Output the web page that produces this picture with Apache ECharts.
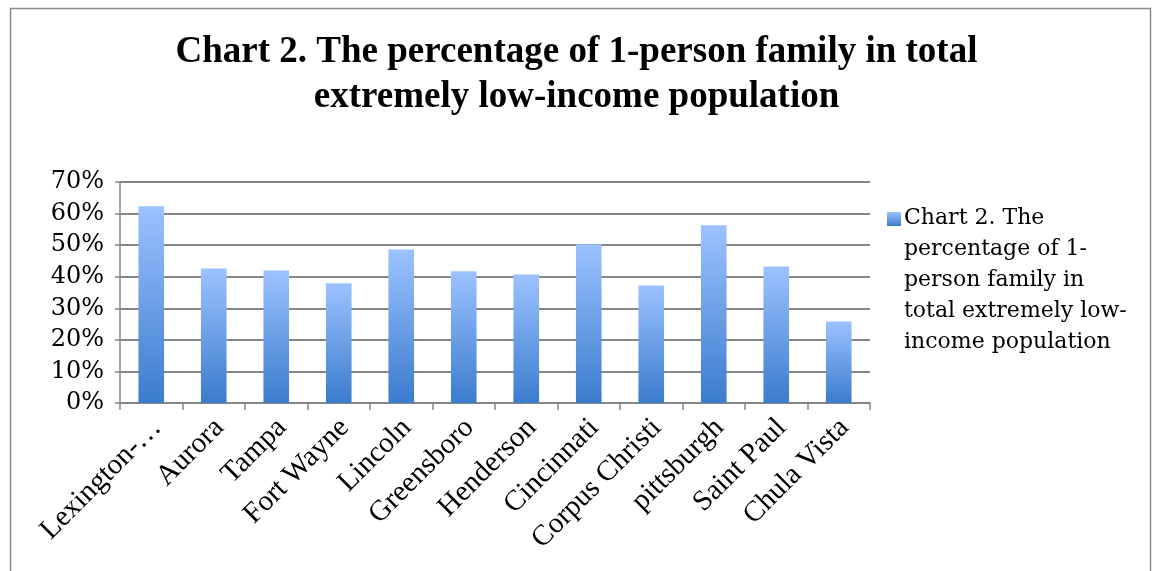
<!DOCTYPE html>
<html><head><meta charset="utf-8">
<script src="https://cdn.jsdelivr.net/npm/echarts@6/dist/echarts.min.js"></script>
<style>html,body{margin:0;padding:0;background:#fff}#c{width:1153px;height:571px}</style>
</head><body><div id="c"></div>
<script>
const categories = ["Lexington-…","Aurora","Tampa","Fort Wayne","Lincoln","Greensboro","Henderson","Cincinnati","Corpus Christi","pittsburgh","Saint Paul","Chula Vista"];
const values = [62.3, 42.6, 42.0, 37.9, 48.6, 41.7, 40.7, 50.3, 37.2, 56.3, 43.2, 25.8];
const seriesName = "Chart 2. The percentage of 1-person family in total extremely low-income population";
const legendLines = ["Chart 2. The","percentage of 1-","person family in","total extremely low-","income population"];
const titleText = "Chart 2. The percentage of 1-person family in total\nextremely low-income population";

const chart = echarts.init(document.getElementById('c'));
const grad = () => new echarts.graphic.LinearGradient(0,0,0,1,[{offset:0,color:'#9cc2ff'},{offset:1,color:'#3b7ccd'}]);
chart.setOption({
  animation:false,
  title:{text:titleText,left:'center',top:25,textStyle:{fontFamily:'Liberation Serif',fontWeight:'bold',fontSize:37,lineHeight:45,color:'#000'}},
  grid:{left:120,right:283,top:182,bottom:168},
  xAxis:{type:'category',data:categories,boundaryGap:true,
    axisLine:{lineStyle:{color:'#868686',width:1.5}},
    axisTick:{show:true,length:7,lineStyle:{color:'#868686',width:1.5}},
    axisLabel:{rotate:45,fontFamily:'Liberation Serif',fontSize:29,color:'#000',margin:26,interval:0,padding:[0,-8,0,0]}},
  yAxis:{type:'value',min:0,max:70,interval:10,
    axisLine:{show:true,lineStyle:{color:'#868686',width:1.5}},
    axisTick:{show:true,length:5,lineStyle:{color:'#868686',width:1.5}},
    splitLine:{lineStyle:{color:'#868686',width:1.8}},
    axisLabel:{formatter:'{value}%',fontFamily:'DejaVu Serif',fontSize:24,color:'#000',margin:16}},
  series:[{name:seriesName,type:'bar',data:values,barWidth:'41%',itemStyle:{color:grad()}}],
  graphic:[
    {type:'rect',left:8,top:6,shape:{width:1140,height:600},style:{fill:'none',stroke:'#8a8a8a',lineWidth:1.5},silent:true},
    {type:'rect',left:887,top:212,shape:{width:14,height:14},style:{fill:grad()}},
    {type:'text',left:904,top:203,style:{text:legendLines.join('\n'),fontFamily:'DejaVu Serif',fontSize:22,lineHeight:31,fill:'#000'}}
  ]
});
</script></body></html>
